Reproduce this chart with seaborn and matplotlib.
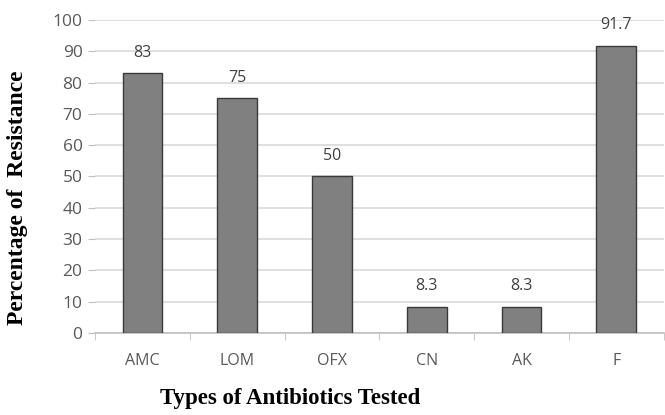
import numpy as np
import pandas as pd
import matplotlib
matplotlib.use('Agg')
import matplotlib.pyplot as plt
import seaborn as sns

antibiotics = ['AMC', 'LOM', 'OFX', 'CN', 'AK', 'F']
resistance = [83, 75, 50, 8.3, 8.3, 91.7]
value_labels = ['83', '75', '50', '8.3', '8.3', '91.7']
y_ticks = [0, 10, 20, 30, 40, 50, 60, 70, 80, 90, 100]

df = pd.DataFrame({'antibiotic': antibiotics, 'resistance': resistance})

sns.set_style('white')
plt.rcParams['font.family'] = ['Open Sans', 'DejaVu Sans']

fig = plt.figure(figsize=(6.65, 4.15), dpi=100)
ax = fig.add_axes([0.143, 0.198, 0.855, 0.754])

sns.barplot(data=df, x='antibiotic', y='resistance', color='#808080',
            saturation=1, width=0.42, edgecolor='#3a3a3a', linewidth=1.0,
            ax=ax, zorder=3)

ax.set_ylim(0, 100)
ax.set_xlim(-0.5, len(antibiotics) - 0.5)
ax.set_yticks(y_ticks)
ax.yaxis.grid(True, color='#d9d9d9', linewidth=1.2, zorder=0)
ax.set_axisbelow(True)

for i, (v, lab) in enumerate(zip(resistance, value_labels)):
    ax.text(i, v + 4, lab, ha='center', va='bottom', fontsize=11.5,
            color='#404040')

for s in ['top', 'right', 'left']:
    ax.spines[s].set_visible(False)
ax.spines['bottom'].set_color('#bfbfbf')
ax.spines['bottom'].set_linewidth(1.2)

ax.tick_params(axis='y', left=True, length=5, color='#bfbfbf', labelsize=12.5,
               labelcolor='#595959', pad=4)
ax.tick_params(axis='x', bottom=False, labelsize=11.5, labelcolor='#595959',
               pad=11)
ax.set_xticks(np.arange(-0.5, len(antibiotics) + 0.5), minor=True)
ax.tick_params(axis='x', which='minor', bottom=True, length=5, color='#bfbfbf')

ax.set_xlabel('')
ax.set_ylabel('')
fig.text(0.027, 0.523, 'Percentage of  Resistance', rotation=90, ha='center',
         va='center', fontsize=17, fontweight='bold',
         family=['Liberation Serif', 'DejaVu Serif'], color='black')
fig.text(0.436, 0.04, 'Types of Antibiotics Tested', ha='center', va='center',
         fontsize=16.5, fontweight='bold',
         family=['Liberation Serif', 'DejaVu Serif'], color='black')

fig.savefig('out.png', dpi=100, facecolor='white')
